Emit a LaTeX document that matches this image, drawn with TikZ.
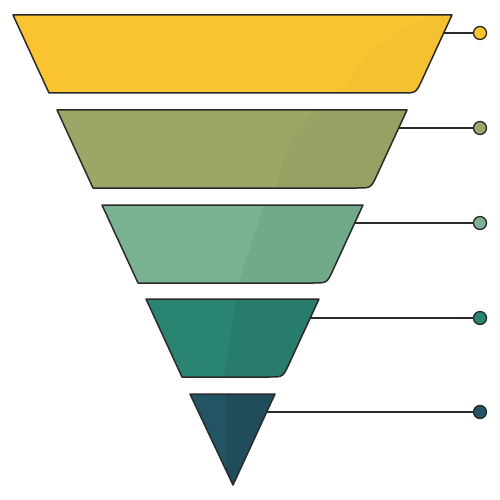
\documentclass[tikz,border=0pt]{standalone}
\definecolor{yelA}{HTML}{F9C42F}
\definecolor{yelB}{HTML}{F4C132}
\definecolor{oliA}{HTML}{9DA666}
\definecolor{oliB}{HTML}{98A163}
\definecolor{grnA}{HTML}{79B391}
\definecolor{grnB}{HTML}{71AA89}
\definecolor{tealA}{HTML}{2A8472}
\definecolor{tealB}{HTML}{277C6B}
\definecolor{navyA}{HTML}{225463}
\definecolor{navyB}{HTML}{204C5B}
\definecolor{ink}{HTML}{2A2A2A}
\newcommand\trapez[3]{(#2,#1) -- (#3,#1) -- ({#3-30},{#1+65}) .. controls ({#3-36},{#1+78}) .. ({#3-50},{#1+78}) -- ({#2+36},{#1+78}) -- cycle}
\tikzset{
  outline/.style={draw=ink, line width=1.5pt, line join=round},
  link/.style={draw=ink, line width=1.2pt},
  dot/.style={circle, draw=ink, line width=1.3pt, minimum size=13pt, inner sep=0pt}
}
\begin{document}
\begin{tikzpicture}[x=1pt,y=-1pt]
\useasboundingbox (0,0) rectangle (500,500);
% layer 1
\fill[yelA] \trapez{15}{13}{452};
\begin{scope}\clip \trapez{15}{13}{452};
\fill[yelB] (338,100) .. controls (370,45) .. (450,8) -- (520,8) -- (520,100) -- cycle;
\end{scope}
\path[outline] \trapez{15}{13}{452};
% layer 2
\fill[oliA] \trapez{110}{57}{407};
\begin{scope}\clip \trapez{110}{57}{407};
\fill[oliB] (274,195) .. controls (288,140) .. (322,104) -- (420,104) -- (420,195) -- cycle;
\end{scope}
\path[outline] \trapez{110}{57}{407};
% layer 3
\fill[grnA] \trapez{205}{102}{363};
\begin{scope}\clip \trapez{205}{102}{363};
\fill[grnB] (236,290) -- (266,200) -- (380,200) -- (380,290) -- cycle;
\end{scope}
\path[outline] \trapez{205}{102}{363};
% layer 4
\fill[tealA] \trapez{299}{146}{319};
\begin{scope}\clip \trapez{299}{146}{319};
\fill[tealB] (223,385) -- (237,295) -- (330,295) -- (330,385) -- cycle;
\end{scope}
\path[outline] \trapez{299}{146}{319};
% layer 5
\fill[navyA] (190,394) -- (275,394) -- (233,485) -- cycle;
\begin{scope}\clip (190,394) -- (275,394) -- (233,485) -- cycle;
\fill[navyB] (226,390) rectangle (290,490);
\end{scope}
\path[outline] (190,394) -- (275,394) -- (233,485) -- cycle;
% connectors
\coordinate (e1) at (444,33);
\coordinate (e2) at (399,128);
\coordinate (e3) at (355,223);
\coordinate (e4) at (310,318);
\coordinate (e5) at (267,412);
\node[dot, fill=yelA] (c1) at (480,33) {};
\node[dot, fill=oliA] (c2) at (480,128) {};
\node[dot, fill=grnA] (c3) at (480,223) {};
\node[dot, fill=tealA] (c4) at (480,318) {};
\node[dot, fill=navyA] (c5) at (480,412) {};
\draw[link] (e1) -- (c1);
\draw[link] (e2) -- (c2);
\draw[link] (e3) -- (c3);
\draw[link] (e4) -- (c4);
\draw[link] (e5) -- (c5);
\end{tikzpicture}
\end{document}
